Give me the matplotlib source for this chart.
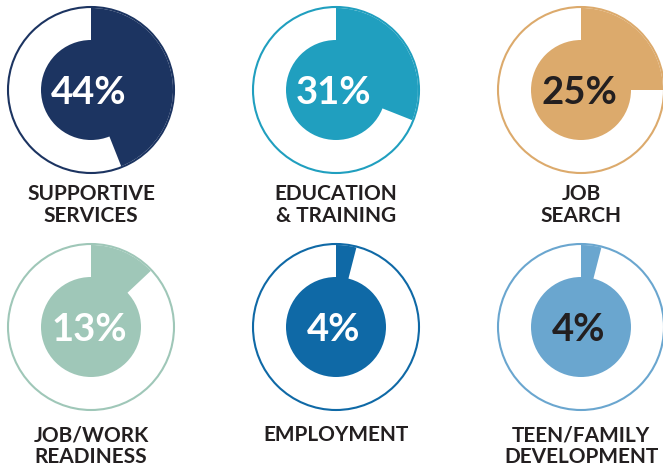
import matplotlib.pyplot as plt

# values
labels = ["SUPPORTIVE\nSERVICES", "EDUCATION\n& TRAINING", "JOB\nSEARCH",
          "JOB/WORK\nREADINESS", "EMPLOYMENT", "TEEN/FAMILY\nDEVELOPMENT"]
percents = [44, 31, 25, 13, 4, 4]
colors = ["#1c3461", "#209fbf", "#dcaa6c", "#9fc7b8", "#0f69a6", "#6aa6cf"]
text_colors = ["white", "white", "#231f20", "white", "white", "#231f20"]

W, H = 663, 469
FONT = "Lato"


def main():
    fig = plt.figure(figsize=(W / 100, H / 100), dpi=100)
    ax = fig.add_axes([0, 0, 1, 1])

    col_x = [91, 336, 581]
    row_y = [90, 327]
    label_base = [200, 441]

    for i, (lab, pct, c, tc) in enumerate(zip(labels, percents, colors, text_colors)):
        cx = col_x[i % 3]
        cy = H - row_y[i // 3]

        # wedge of the share, from 12 o'clock going clockwise
        ax.pie([pct, 100 - pct], colors=[c, "none"], startangle=90,
               counterclock=False, center=(cx, cy), radius=82,
               wedgeprops=dict(linewidth=0))
        ax.add_patch(plt.Circle((cx, cy), 83, fill=False, edgecolor=c, linewidth=1.5))
        ax.add_patch(plt.Circle((cx, cy), 50, color=c, linewidth=0))

        ax.text(cx - 2, cy, f"{pct}%", ha="center", va="center_baseline",
                color=tc, fontsize=27.5, family=FONT, fontweight="bold")

        lines = lab.split("\n")
        for j, line in enumerate(lines):
            ax.text(cx, H - (label_base[i // 3] + 22 * j), line, ha="center",
                    va="baseline", color="#231f20", fontsize=15, family=FONT,
                    fontweight="bold")

    ax.set_xlim(0, W)
    ax.set_ylim(0, H)
    ax.set_aspect("equal")
    ax.axis("off")
    fig.savefig("out.png", dpi=100)


if __name__ == "__main__":
    main()
